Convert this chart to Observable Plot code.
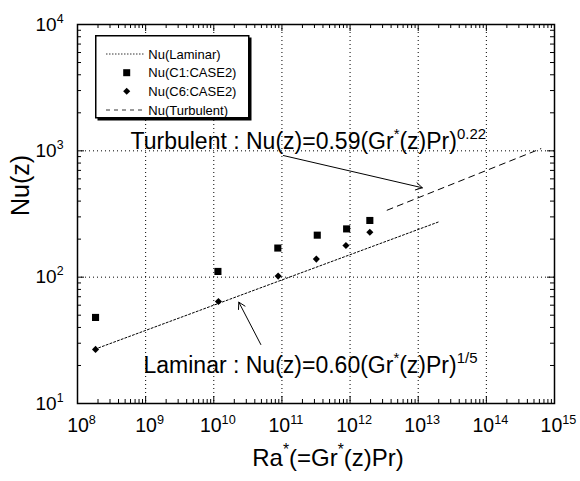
<!DOCTYPE html>
<html><head><meta charset="utf-8">
<script src="https://cdn.jsdelivr.net/npm/d3@7"></script>
<script src="https://cdn.jsdelivr.net/npm/@observablehq/plot@0.6"></script>
<style>
body{margin:0;background:#fff;}
#chart{position:relative;width:580px;height:481px;font-family:"Liberation Sans",Arial,Helvetica,sans-serif;}
#legend{position:absolute;left:95px;top:35px;}
</style></head><body><div id="chart"></div>
<script>
// ---- data ----
const raC1 = [1.84e8, 1.15e10, 8.7e10, 3.3e11, 8.9e11, 1.95e12];
const nuC1 = [48, 111, 170, 215, 241, 281];
const raC6 = [1.84e8, 1.17e10, 8.8e10, 3.2e11, 8.7e11, 1.95e12];
const nuC6 = [26.8, 64.2, 102, 139, 178, 227];
const laminarRa = [1.8e8, 2.0e13];
const laminarNu = [26.9, 274];
const turbRa = [3.5e12, 6.3e14];
const turbNu = [339, 1040];
const xTicks = [1e8, 1e9, 1e10, 1e11, 1e12, 1e13, 1e14, 1e15];
const yTicks = [1e1, 1e2, 1e3, 1e4];
const noteText = ["Turbulent : Nu(z)=0.59(Gr^{*}(z)Pr)^{0.22}", "Laminar : Nu(z)=0.60(Gr^{*}(z)Pr)^{1/5}"];
const noteRa = [6.0e8, 9.3e8];
const noteNu = [1190, 20.0];
const arrowFromRa = [1.05e11, 4.9e10];
const arrowFromNu = [918, 29.3];
const arrowToRa = [1.15e13, 2.33e10];
const arrowToNu = [510, 63.4];
const legendLabels = ["Nu(Laminar)", "Nu(C1:CASE2)", "Nu(C6:CASE2)", "Nu(Turbulent)"];
const xLabel = "Ra^{*}(=Gr^{*}(z)Pr)";
const yLabel = "Nu(z)";

// ---- tables ----
const c1 = raC1.map((r, i) => ({ra: r, nu: nuC1[i]}));
const c6 = raC6.map((r, i) => ({ra: r, nu: nuC6[i]}));
const lam = laminarRa.map((r, i) => ({ra: r, nu: laminarNu[i]}));
const turb = turbRa.map((r, i) => ({ra: r, nu: turbNu[i]}));
const notes = noteText.map((t, i) => ({text: t, ra: noteRa[i], nu: noteNu[i]}));
const arrows = arrowFromRa.map((r, i) => ({x1: r, y1: arrowFromNu[i], x2: arrowToRa[i], y2: arrowToNu[i]}));
const minorOf = m => m.slice(0, -1).flatMap(v => [2,3,4,5,6,7,8,9].map(k => k * v));
const xMinor = minorOf(xTicks), yMinor = minorOf(yTicks);
const supFmt = d => `10^{${Math.round(Math.log10(d))}}`;
const K = "black";

const W = 580, H = 481, mL = 77, mR = 26, mT = 24, mB = 78;
const fw = W - mL - mR, fh = H - mT - mB;
const MAJ = 7, MIN = 4;
const tickMarks = [
  Plot.ruleX(xTicks, {x: d => d, insetTop: fh - MAJ, stroke: K}),
  Plot.ruleX(xTicks, {x: d => d, insetBottom: fh - MAJ, stroke: K}),
  Plot.ruleX(xMinor, {x: d => d, insetTop: fh - MIN, stroke: K}),
  Plot.ruleX(xMinor, {x: d => d, insetBottom: fh - MIN, stroke: K}),
  Plot.ruleY(yTicks, {y: d => d, insetRight: fw - MAJ, stroke: K}),
  Plot.ruleY(yTicks, {y: d => d, insetLeft: fw - MAJ, stroke: K}),
  Plot.ruleY(yMinor, {y: d => d, insetRight: fw - MIN, stroke: K}),
  Plot.ruleY(yMinor, {y: d => d, insetLeft: fw - MIN, stroke: K})
];

const svg = Plot.plot({
  width: W, height: H,
  marginLeft: mL, marginRight: mR, marginTop: mT, marginBottom: mB,
  style: {fontFamily: '"Liberation Sans", Arial, Helvetica, sans-serif', background: "white", color: "black", overflow: "visible"},
  x: {type: "log", domain: [1e8, 1e15], axis: null},
  y: {type: "log", domain: [10, 1e4], axis: null},
  marks: [
    Plot.gridX(xTicks.slice(1, -1), {stroke: K, strokeOpacity: 1, strokeWidth: 1, strokeDasharray: "1,3"}),
    Plot.gridY(yTicks.slice(1, -1), {stroke: K, strokeOpacity: 1, strokeWidth: 1, strokeDasharray: "1,3"}),
    ...tickMarks,
    Plot.text(xTicks, {x: d => d, text: supFmt, frameAnchor: "bottom", dy: 28.5, dx: 4, fontSize: 19.5, fill: K}),
    Plot.text(yTicks, {y: d => d, text: supFmt, frameAnchor: "left", textAnchor: "end", dx: -14, fontSize: 19, fill: K}),
    Plot.line(lam, {x: "ra", y: "nu", stroke: K, strokeWidth: 1, strokeDasharray: "2,2"}),
    Plot.line(turb, {x: "ra", y: "nu", stroke: K, strokeWidth: 1, strokeDasharray: "6,5"}),
    Plot.dot(c1, {x: "ra", y: "nu", symbol: "square", r: 4, fill: K, stroke: null}),
    Plot.dot(c6, {x: "ra", y: "nu", symbol: "diamond2", r: 3.2, fill: K, stroke: null}),
    Plot.arrow(arrows, {x1: "x1", y1: "y1", x2: "x2", y2: "y2", stroke: K, strokeWidth: 1, headLength: 11, bend: 0}),
    Plot.text(notes, {x: "ra", y: "nu", text: "text", textAnchor: "start", fontSize: 23, fill: K}),
    Plot.text([xLabel], {text: d => d, frameAnchor: "bottom", dy: 62, dx: 12, fontSize: 24, fill: K}),
    Plot.text([yLabel], {text: d => d, frameAnchor: "left", rotate: -90, dx: -57, dy: 2, fontSize: 25, fill: K}),
    Plot.frame({stroke: K, strokeWidth: 1.5})
  ]
});

// superscript markup ^{...} -> tspans
d3.select(svg).selectAll("text").each(function() {
  const s = this.textContent;
  if (!s || !s.includes("^{")) return;
  const holder = this.closest("[font-size]");
  const fs = holder ? parseFloat(holder.getAttribute("font-size")) : 12;
  const shift = 0.42 * fs;
  const parts = s.split(/\^\{([^}]*)\}/);
  const t = d3.select(this);
  t.text("");
  let raised = false;
  parts.forEach((p, i) => {
    if (!p) return;
    if (i % 2 === 1) {
      t.append("tspan").attr("font-size", 0.65 * fs).attr("dy", raised ? 0 : -shift).text(p);
      raised = true;
    } else {
      t.append("tspan").attr("dy", raised ? shift : 0).text(p);
      raised = false;
    }
  });
});

const chart = document.getElementById("chart");
chart.appendChild(svg);

// legend box
const lg = d3.select(chart).append("svg").attr("id", "legend").attr("width", 162).attr("height", 92);
lg.append("rect").attr("x", 2.5).attr("y", 2.5).attr("width", 154).attr("height", 83).attr("fill", K);
lg.append("rect").attr("x", 0.75).attr("y", 0.75).attr("width", 153).attr("height", 82).attr("fill", "white").attr("stroke", K).attr("stroke-width", 1.5);
const rows = [19, 37.7, 56.3, 75];
const sx0 = 11, sx1 = 50, mx = 31.7, tx = 53.3;
lg.append("line").attr("x1", sx0).attr("x2", sx1).attr("y1", rows[0]).attr("y2", rows[0]).attr("stroke", K).attr("stroke-width", 0.8).attr("stroke-dasharray", "1.5,1.5");
lg.append("rect").attr("x", mx - 3.5).attr("y", rows[1] - 3.5).attr("width", 7).attr("height", 7).attr("fill", K);
lg.append("path").attr("d", d3.symbol(d3.symbolDiamond2, 32)()).attr("transform", `translate(${mx},${rows[2]})`).attr("fill", K);
lg.append("line").attr("x1", sx0).attr("x2", sx1).attr("y1", rows[3]).attr("y2", rows[3]).attr("stroke", K).attr("stroke-width", 0.8).attr("stroke-dasharray", "4,4");
lg.selectAll("text.lab").data(legendLabels).join("text").attr("class", "lab")
  .attr("x", tx).attr("y", (d, i) => rows[i]).attr("dy", "0.35em")
  .attr("font-size", 13).attr("fill", K)
  .style("font-family", '"Liberation Sans", Arial, Helvetica, sans-serif')
  .text(d => d);
</script></body></html>
